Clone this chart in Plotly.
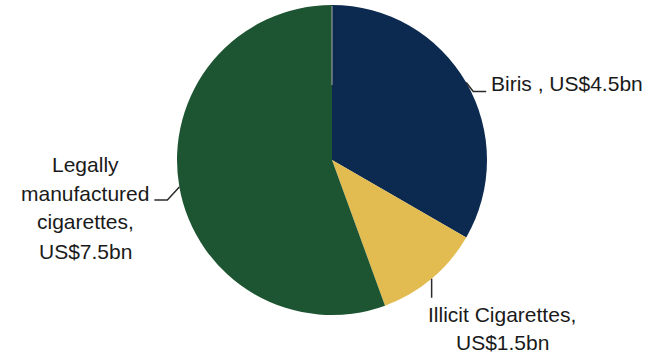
import math
import plotly.graph_objects as go

# Market split, US$ bn
segments = ["Biris", "Illicit Cigarettes", "Legally manufactured cigarettes"]
values = [4.5, 1.5, 7.5]
label_lines = [
    ["Biris , US$4.5bn"],
    ["Illicit Cigarettes,", "US$1.5bn"],
    ["Legally", "manufactured", "cigarettes,", "US$7.5bn"],
]
colors = ["#0c2a50", "#e2bc50", "#1d5533"]

W, H = 656, 358
CX, CY, R = 332, 160, 155  # pie centre and radius in pixels (from top-left)

def px(x):
    return x / W

def py(y):
    return 1 - y / H

fig = go.Figure(
    go.Pie(
        labels=segments,
        values=values,
        sort=False,
        direction="clockwise",
        rotation=0,
        marker=dict(colors=colors, line=dict(width=0)),
        textinfo="none",
        hoverinfo="label+value",
        showlegend=False,
        domain=dict(x=[px(CX - R), px(CX + R)], y=[py(CY + R), py(CY - R)]),
    )
)

# edge point at the middle of each slice
total = sum(values)
edges = []
acc = 0.0
for v in values:
    mid = (acc + v / 2) / total * 2 * math.pi
    edges.append((CX + R * math.sin(mid), CY - R * math.cos(mid)))
    acc += v

# leader line bends (pixel offsets from the edge point)
leaders = [
    [(7, 9), (20, 9)],
    [(0, 19)],
    [(-12, 13), (-25, 13)],
]
# label block: anchor x, first-line centre y, line pitch, x anchor
label_pos = [
    dict(x=489, y=83, pitch=29, xanchor="left"),
    dict(x=502, y=314, pitch=28.5, xanchor="center"),
    dict(x=85, y=164, pitch=29, xanchor="center"),
]

line_color = "#2b2b2b"
for (ex, ey), bends in zip(edges, leaders):
    pts = [(ex, ey)] + [(ex + dx, ey + dy) for dx, dy in bends]
    path = "M " + " L ".join(f"{px(x):.5f},{py(y):.5f}" for x, y in pts)
    fig.add_shape(type="path", path=path, xref="paper", yref="paper",
                  line=dict(color=line_color, width=1.5))

# thin seam where the first slice starts
fig.add_shape(type="line", xref="paper", yref="paper",
              x0=px(CX), x1=px(CX), y0=py(CY - R + 1), y1=py(CY - 75),
              line=dict(color="#a8a8a8", width=1))

for lines, pos in zip(label_lines, label_pos):
    for i, text in enumerate(lines):
        fig.add_annotation(
            text=text, x=px(pos["x"]), y=py(pos["y"] + i * pos["pitch"]),
            xref="paper", yref="paper",
            xanchor=pos["xanchor"], yanchor="middle", showarrow=False,
            font=dict(family="Liberation Sans, Arial, sans-serif",
                      size=21, color="#1a1a1a"),
        )

fig.update_layout(
    width=W, height=H,
    margin=dict(l=0, r=0, t=0, b=0),
    paper_bgcolor="white",
    plot_bgcolor="white",
)

fig.write_html("out.html")
